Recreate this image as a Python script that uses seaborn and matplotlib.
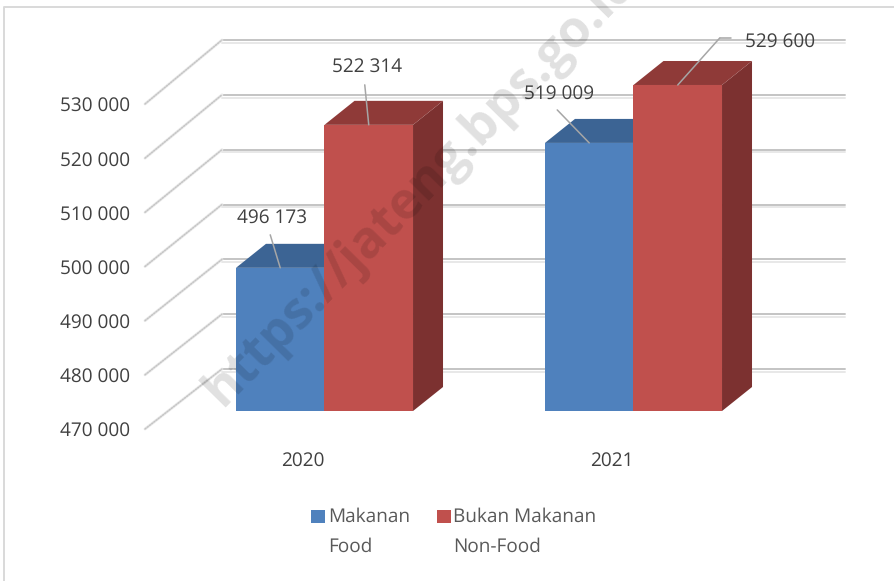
import matplotlib
matplotlib.use("Agg")
import matplotlib.pyplot as plt
import matplotlib.patheffects as pe
from matplotlib.colors import to_hex
from matplotlib.lines import Line2D
from matplotlib.patches import ConnectionPatch, Polygon, Rectangle
from matplotlib.transforms import ScaledTranslation, IdentityTransform
import pandas as pd
import seaborn as sns

years = ["2020", "2021"]
makanan = [496173, 519009]
bukan_makanan = [522314, 529600]
series_names = ["Makanan\nFood", "Bukan Makanan\nNon-Food"]
y_ticks = [470000, 480000, 490000, 500000, 510000, 520000, 530000]

W, H = 895, 581
BLUE, RED = "#4f81bd", "#c0504d"
TOP = {BLUE: "#3c6494", RED: "#8f3a38"}
SIDE = {BLUE: "#2f5078", RED: "#7c3130"}
TXT = "#404040"
FONT = "Open Sans"

sns.set_theme(style="white")
plt.rcParams["font.family"] = [FONT, "DejaVu Sans"]
plt.rcParams["text.hinting"] = "no_hinting"
plt.rcParams["text.hinting_factor"] = 1

fig = plt.figure(figsize=(W / 100, H / 100), dpi=100, facecolor="white")


def px_axes(left, right, top, bottom, zorder):
    a = fig.add_axes([left / W, 1 - bottom / H, (right - left) / W, (bottom - top) / H], zorder=zorder)
    a.patch.set_alpha(0)
    sns.despine(ax=a, left=True, bottom=True)
    return a


fig.add_artist(Line2D([4.5 / W, 4.5 / W, 1], [0, 1 - 6.5 / H, 1 - 6.5 / H], transform=fig.transFigure,
                      color="#d9d9d9", lw=1.4))

# back wall: gridlines
ax_back = px_axes(222, 845, 40, 369, 0)
ax_back.set_ylim(470000, 530000)
ax_back.set_yticks(y_ticks)
ax_back.set_xticks([])
ax_back.tick_params(left=False, labelleft=False)
ax_back.grid(axis="y", color="#c4c4c4", lw=1.4)
for g in ax_back.get_ygridlines():
    g.set_clip_on(False)
    g.set_path_effects([pe.SimpleLineShadow(offset=(0, -2), shadow_color="#e8e8e8", alpha=1), pe.Normal()])

# front plane: value labels
ax_front = px_axes(145, 845, 104, 429, 0)
ax_front.set_ylim(470000, 530000)
ax_front.set_yticks(y_ticks)
ax_front.set_yticklabels([f"{v:,}".replace(",", " ") for v in y_ticks], fontsize=14, color=TXT)
ax_front.set_xticks([])
ax_front.tick_params(left=False, pad=5)

for v in y_ticks:
    for col, lw, ls in (("#e8e8e8", 2.0, "-"), ("#c4c4c4", 1.0, (0, (1, 1)))):
        fig.add_artist(ConnectionPatch((0, v), (0, v), "data", "data", axesA=ax_front, axesB=ax_back,
                                       color=col, lw=lw, ls=ls, shrinkA=0, shrinkB=0, arrowstyle="-"))

# bars
ax = px_axes(145, 845, 40, 411, 2)
df = pd.DataFrame({
    "year": years * 2,
    "value": makanan + bukan_makanan,
    "series": [series_names[0]] * 2 + [series_names[1]] * 2,
})
sns.barplot(data=df, x="year", y="value", hue="series", palette=[BLUE, RED], width=0.573,
            gap=0, saturation=1, ax=ax, legend=False, linewidth=0)
ax.set_xlim(-0.5809, 1.6845)
BASE = 470000
ax.set_ylim(BASE, BASE + 371 / 54.7 * 10000)
ax.set(xlabel="", ylabel="", yticks=[])
ax.tick_params(bottom=False, labelsize=14, labelcolor=TXT, pad=23)
for lab in ax.get_xticklabels():
    lab.set_transform(lab.get_transform() + ScaledTranslation(-22 / 100, 0, fig.dpi_scale_trans))

DX, DY = 30, 24  # bar depth in pixels
bars = list(ax.patches)[:4]
all_vals = makanan + bukan_makanan
for b, v in zip(bars, all_vals):
    col = to_hex(b.get_facecolor())
    x0, y0 = ax.transData.transform((b.get_x(), BASE))
    x1, y1 = ax.transData.transform((b.get_x() + b.get_width(), v))
    top = [(x0, y1), (x1, y1), (x1 + DX, y1 + DY), (x0 + DX, y1 + DY)]
    side = [(x1, y0), (x1, y1), (x1 + DX, y1 + DY), (x1 + DX, y0 + DY)]
    z = b.get_zorder()
    ax.add_patch(Polygon(side, transform=IdentityTransform(), fc=SIDE[col], ec="none", zorder=z - 0.5, clip_on=False))
    ax.add_patch(Polygon(top, transform=IdentityTransform(), fc=TOP[col], ec="none", zorder=z - 0.4, clip_on=False))

# data labels and leaders (order: Makanan 2020, 2021, Bukan Makanan 2020, 2021)
label_offsets = [(-8, 50), (-30, 49), (-2, 58), (102, 43)]
leader_ends = [(-10, 33), (-32, 33), (-4, 40), (42, 47)]
LEADER = "#a6a6a6"
for b, v, (lx, ly), (ex, ey) in zip(bars, all_vals, label_offsets, leader_ends):
    cx = b.get_x() + b.get_width() / 2
    ax.annotate("", xy=(cx, v), xytext=(ex, ey), textcoords="offset pixels",
                arrowprops=dict(arrowstyle="-", color=LEADER, lw=1.1, shrinkA=0, shrinkB=0), zorder=8)
    ax.annotate(f"{v:,}".replace(",", " "), xy=(cx, v), xytext=(lx, ly), textcoords="offset pixels",
                ha="center", va="center", fontsize=14, color=TXT, zorder=9)
# elbow of the last leader
px, py = ax.transData.transform((bars[3].get_x() + bars[3].get_width() / 2, all_vals[3]))
fig.add_artist(Line2D([px + 42, px + 53], [py + 47, py + 47], color=LEADER, lw=1.1, transform=IdentityTransform()))

# legend
handles = [Rectangle((0, 0), 1, 1, fc=BLUE, ec="none"), Rectangle((0, 0), 1, 1, fc=RED, ec="none")]
leg = fig.legend(handles, series_names, ncol=2, frameon=False, loc="center", bbox_to_anchor=(454 / W, 1 - 532 / H),
                 fontsize=14, labelcolor="#595959", handlelength=0.72, handleheight=0.72, handletextpad=0.12,
                 columnspacing=1.4, borderpad=0)
for t in leg.get_texts():
    t.set_linespacing(1.8)
for h in leg.legend_handles:
    h.set_y(h.get_y() + 11.5)

# watermark
fig.text(222 / W, 1 - 408 / H, "https://jateng.bps.go.id", fontsize=37, fontweight="bold", color="black", alpha=0.12,
         rotation=45.5, rotation_mode="anchor", ha="left", va="baseline", zorder=20, family=FONT)

fig.savefig("out.png", dpi=100)
